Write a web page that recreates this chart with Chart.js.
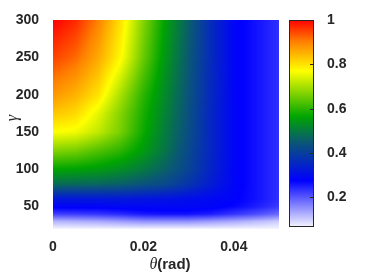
<!DOCTYPE html>
<html>
<head>
<meta charset="utf-8">
<script src="https://cdn.jsdelivr.net/npm/chart.js@4"></script>
<style>
  html, body { margin: 0; padding: 0; background: #fff; }
  #wrap { position: relative; width: 382px; height: 273px; }
  #main { position: absolute; left: 0; top: 0; }
  #bar { position: absolute; left: 288px; top: 0; }
</style>
</head>
<body>
<div id="wrap">
  <canvas id="main" width="288" height="273"></canvas>
  <canvas id="bar" width="94" height="273"></canvas>
</div>
<script>
// grid: columns = theta (rad), rows = gamma
var thetaVals = [0, 0.005, 0.01, 0.015, 0.02, 0.025, 0.03, 0.035, 0.04, 0.045, 0.05];
var gammaVals = [20, 30, 40, 50, 60, 80, 100, 125, 150, 175, 200, 250, 300];
var levels = [
  [0.066, 0.066, 0.066, 0.066, 0.066, 0.066, 0.066, 0.066, 0.066, 0.066, 0.066], // 20
  [0.12, 0.125, 0.13, 0.14, 0.15, 0.15, 0.15, 0.14, 0.13, 0.115, 0.10],       // 30
  [0.22, 0.225, 0.23, 0.24, 0.255, 0.26, 0.26, 0.25, 0.23, 0.21, 0.185],      // 40
  [0.285, 0.285, 0.285, 0.29, 0.29, 0.29, 0.29, 0.285, 0.27, 0.25, 0.225],    // 50
  [0.32, 0.32, 0.32, 0.32, 0.315, 0.31, 0.30, 0.29, 0.28, 0.26, 0.235],       // 60
  [0.48, 0.475, 0.47, 0.46, 0.44, 0.42, 0.38, 0.33, 0.285, 0.26, 0.235],      // 80
  [0.565, 0.56, 0.55, 0.53, 0.50, 0.46, 0.41, 0.345, 0.285, 0.26, 0.235],     // 100
  [0.67, 0.66, 0.63, 0.60, 0.55, 0.49, 0.42, 0.35, 0.285, 0.26, 0.235],       // 125
  [0.77, 0.76, 0.72, 0.66, 0.575, 0.50, 0.43, 0.35, 0.285, 0.26, 0.235],      // 150
  [0.83, 0.81, 0.75, 0.67, 0.585, 0.51, 0.435, 0.35, 0.285, 0.26, 0.235],     // 175
  [0.88, 0.85, 0.80, 0.70, 0.60, 0.52, 0.44, 0.355, 0.285, 0.26, 0.235],      // 200
  [0.95, 0.92, 0.86, 0.775, 0.65, 0.54, 0.45, 0.36, 0.285, 0.26, 0.235],      // 250
  [1.00, 0.97, 0.90, 0.80, 0.67, 0.555, 0.46, 0.36, 0.285, 0.26, 0.235]       // 300
];
var xTicks = [0, 0.02, 0.04];
var yTicks = [50, 100, 150, 200, 250, 300];
var cTicks = [0.2, 0.4, 0.6, 0.8, 1];
var cMin = 0.066, cMax = 1;

// colormap stops: value, r, g, b
var cmap = [
  [0.066, 245, 245, 255],
  [0.275, 0, 0, 255],
  [0.445, 10, 85, 120],
  [0.565, 0, 165, 0],
  [0.77, 255, 255, 0],
  [0.9, 255, 130, 0],
  [1.0, 255, 0, 0]
];

var textCol = '#262626';
var sans = '"Liberation Sans", Arial, sans-serif';

function colorAt(v) {
  if (v <= cmap[0][0]) return cmap[0].slice(1);
  for (var k = 1; k < cmap.length; k++) {
    if (v <= cmap[k][0]) {
      var a = cmap[k - 1], b = cmap[k];
      var f = (v - a[0]) / (b[0] - a[0]);
      return [a[1] + (b[1] - a[1]) * f, a[2] + (b[2] - a[2]) * f, a[3] + (b[3] - a[3]) * f];
    }
  }
  return cmap[cmap.length - 1].slice(1);
}

function findCell(arr, v) {
  var i = 0;
  while (i < arr.length - 2 && v > arr[i + 1]) i++;
  var f = (v - arr[i]) / (arr[i + 1] - arr[i]);
  return [i, Math.max(0, Math.min(1, f))];
}

function sample(t, g) {
  var cx = findCell(thetaVals, t), cy = findCell(gammaVals, g);
  var i = cx[0], fx = cx[1], j = cy[0], fy = cy[1];
  var a = levels[j][i] * (1 - fx) + levels[j][i + 1] * fx;
  var b = levels[j + 1][i] * (1 - fx) + levels[j + 1][i + 1] * fx;
  return a * (1 - fy) + b * fy;
}

var heatPlugin = {
  id: 'heat',
  beforeDatasetsDraw: function(chart) {
    var ar = chart.chartArea, xs = chart.scales.x, ys = chart.scales.y, ctx = chart.ctx;
    var x0 = Math.round(ar.left), y0 = Math.round(ar.top);
    var w = Math.round(ar.right) - x0, h = Math.round(ar.bottom) - y0;
    var img = ctx.createImageData(w, h);
    for (var j = 0; j < h; j++) {
      var g = ys.getValueForPixel(y0 + j + 0.5);
      for (var i = 0; i < w; i++) {
        var t = xs.getValueForPixel(x0 + i + 0.5);
        var c = colorAt(sample(t, g));
        var p = (j * w + i) * 4;
        img.data[p] = c[0]; img.data[p + 1] = c[1]; img.data[p + 2] = c[2]; img.data[p + 3] = 255;
      }
    }
    ctx.putImageData(img, x0, y0);
  },
  afterDraw: function(chart) {
    var ctx = chart.ctx;
    ctx.save();
    ctx.fillStyle = textCol;
    ctx.textBaseline = 'middle';
    // x title: italic theta + (rad)
    ctx.font = 'italic 16px "Liberation Serif", serif';
    var w1 = ctx.measureText('θ').width;
    ctx.font = 'bold 15px ' + sans;
    var w2 = ctx.measureText('(rad)').width;
    var sx = 170 - (w1 + w2) / 2;
    ctx.textAlign = 'left';
    ctx.font = 'italic 16px "Liberation Serif", serif';
    ctx.fillText('θ', sx, 265);
    ctx.font = 'bold 15px ' + sans;
    ctx.fillText('(rad)', sx + w1, 265);
    // y title
    ctx.translate(13, 118);
    ctx.rotate(-Math.PI / 2);
    ctx.textAlign = 'center';
    ctx.font = 'italic 16px "Liberation Serif", serif';
    ctx.fillText('γ', 0, 0);
    ctx.restore();
  }
};

new Chart(document.getElementById('main'), {
  type: 'scatter',
  data: { datasets: [] },
  plugins: [heatPlugin],
  options: {
    responsive: false,
    animation: false,
    layout: { padding: { top: 20, right: 9, left: 0, bottom: 0 } },
    plugins: { legend: { display: false }, tooltip: { enabled: false } },
    scales: {
      x: {
        type: 'linear', min: 0, max: 0.05,
        grid: { display: false }, border: { display: false },
        afterBuildTicks: function(s) { s.ticks = xTicks.map(function(v) { return { value: v }; }); },
        afterFit: function(s) { s.height = 44; },
        ticks: {
          padding: 2, color: textCol, maxRotation: 0,
          font: { family: sans, size: 14, weight: 'bold' },
          callback: function(v) { return v === 0 ? '0' : v.toFixed(2); }
        }
      },
      y: {
        type: 'linear', min: 20, max: 300,
        grid: { display: false }, border: { display: false },
        afterBuildTicks: function(s) { s.ticks = yTicks.map(function(v) { return { value: v }; }); },
        afterFit: function(s) { s.width = 53; },
        ticks: {
          padding: 6, color: textCol,
          font: { family: sans, size: 14, weight: 'bold' }
        }
      }
    }
  }
});

var barPlugin = {
  id: 'cbar',
  beforeDatasetsDraw: function(chart) {
    var ar = chart.chartArea, ys = chart.scales.y, ctx = chart.ctx;
    var x0 = Math.round(ar.left), y0 = Math.round(ar.top);
    var w = Math.round(ar.right) - x0, h = Math.round(ar.bottom) - y0;
    for (var j = 0; j < h; j++) {
      var c = colorAt(ys.getValueForPixel(y0 + j + 0.5));
      ctx.fillStyle = 'rgb(' + Math.round(c[0]) + ',' + Math.round(c[1]) + ',' + Math.round(c[2]) + ')';
      ctx.fillRect(x0, y0 + j, w, 1);
    }
    ctx.save();
    ctx.strokeStyle = textCol;
    ctx.lineWidth = 1;
    ctx.strokeRect(x0 + 0.5, y0 + 0.5, w - 1, h - 1);
    ctx.beginPath();
    cTicks.forEach(function(v) {
      var py = Math.round(ys.getPixelForValue(v)) + 0.5;
      ctx.moveTo(x0 + w - 4, py);
      ctx.lineTo(x0 + w, py);
    });
    ctx.stroke();
    ctx.restore();
  }
};

new Chart(document.getElementById('bar'), {
  type: 'scatter',
  data: { datasets: [] },
  plugins: [barPlugin],
  options: {
    responsive: false,
    animation: false,
    layout: { padding: { top: 20, left: 1, right: 0, bottom: 46 } },
    plugins: { legend: { display: false }, tooltip: { enabled: false } },
    scales: {
      x: { type: 'linear', display: false },
      y: {
        type: 'linear', position: 'right', min: cMin, max: cMax,
        grid: { display: false }, border: { display: false },
        afterBuildTicks: function(s) { s.ticks = cTicks.map(function(v) { return { value: v }; }); },
        afterFit: function(s) { s.width = 68; },
        ticks: {
          padding: 5, color: textCol,
          font: { family: sans, size: 14, weight: 'bold' },
          callback: function(v) { return v === 1 ? '1' : v.toFixed(1); }
        }
      }
    }
  }
});
</script>
</body>
</html>
